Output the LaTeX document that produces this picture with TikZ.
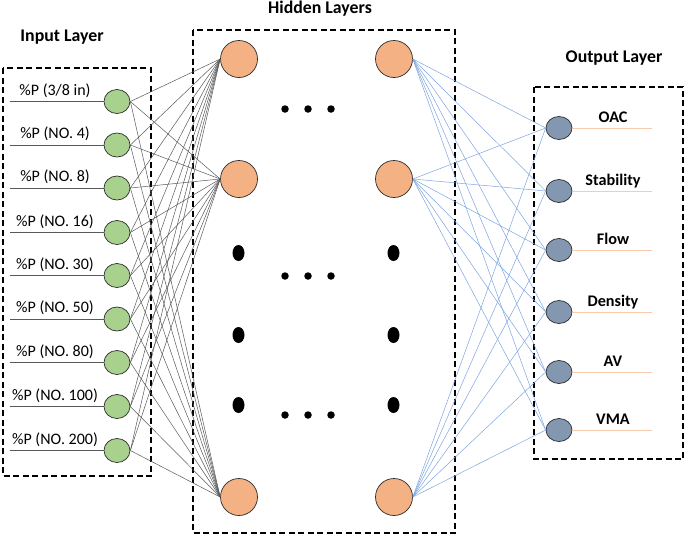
\documentclass[tikz,border=0pt]{standalone}
\usepackage{fontspec}
\setmainfont{Carlito}
\usetikzlibrary{shapes.geometric}
\definecolor{ingreen}{HTML}{A9D18E}
\definecolor{hidorange}{HTML}{F4B183}
\definecolor{outblue}{HTML}{8497B0}
\definecolor{wireblue}{HTML}{7EA4E0}
\definecolor{wiregray}{HTML}{595959}
\definecolor{outline}{HTML}{2B2B2B}
\definecolor{salmon}{HTML}{F8CBAD}
\tikzset{
  layerbox/.style={draw=black, line width=1.8pt, dash pattern=on 6pt off 3.5pt},
  innode/.style={ellipse, draw=outline, fill=ingreen, line width=0.7pt, minimum width=26pt, minimum height=24pt, inner sep=0pt},
  outnode/.style={ellipse, draw=outline, fill=outblue, line width=0.7pt, minimum width=26pt, minimum height=23pt, inner sep=0pt},
  hidnode/.style={circle, draw=outline, fill=hidorange, line width=0.7pt, minimum size=37pt, inner sep=0pt},
  bigdot/.style={ellipse, fill=black, minimum width=12pt, minimum height=16pt, inner sep=0pt},
  smalldot/.style={circle, fill=black, minimum size=7.5pt, inner sep=0pt},
  inlabel/.style={font=\fontsize{16}{19}\selectfont, inner sep=0pt},
  outlabel/.style={font=\fontsize{16.2}{19}\selectfont\bfseries, inner sep=0pt},
  title/.style={font=\fontsize{17.8}{21}\selectfont\bfseries, inner sep=0pt},
  ingrayline/.style={draw=wiregray, line width=0.5pt},
  bluewire/.style={draw=wireblue, line width=0.5pt},
  outline wire/.style={draw=salmon, line width=0.8pt},
}
\begin{document}
\begin{tikzpicture}[x=1pt,y=-1pt]
\useasboundingbox (0,0) rectangle (685,536);
% boxes
\draw[layerbox] (3,68) rectangle (151,476);
\draw[layerbox] (193,30) rectangle (455,533);
\draw[layerbox] (534,87) rectangle (683,459);
% titles
\node[title] (tin) at (62,37) {Input Layer};
\node[title] (thid) at (320,9) {Hidden Layers};
\node[title] (tout) at (614,58) {Output Layer};
% input nodes
\foreach \i/\y/\t in {1/101.5/{\%P (3/8 in)},2/145/{\%P (NO. 4)},3/188/{\%P (NO. 8)},4/232.5/{\%P (NO. 16)},5/275.5/{\%P (NO. 30)},6/319/{\%P (NO. 50)},7/362.5/{\%P (NO. 80)},8/406.5/{\%P (NO. 100)},9/450.5/{\%P (NO. 200)}}{
  \node[innode] (in\i) at (117,\y) {};
  \coordinate (ins\i) at (10,\y);
  \node[inlabel, anchor=base] (inl\i) at (55,\y-6.5) {\t};
}
% hidden nodes
\node[hidnode] (h1) at (239,59) {};
\node[hidnode] (h2) at (239,179) {};
\node[hidnode] (h3) at (239,497) {};
\node[hidnode] (g1) at (394,59) {};
\node[hidnode] (g2) at (394,179) {};
\node[hidnode] (g3) at (394,497) {};
% dots
\foreach \y [count=\k] in {253,335,405}{
  \node[bigdot] (bl\k) at (238.5,\y) {};
  \node[bigdot] (br\k) at (393.5,\y) {};
}
\foreach \y [count=\k] in {109,276,415}{
  \node[smalldot] (da\k) at (285,\y) {};
  \node[smalldot] (db\k) at (308,\y) {};
  \node[smalldot] (dc\k) at (331,\y) {};
}
% output nodes
\foreach \i/\y/\t in {1/128/OAC,2/191/Stability,3/250/Flow,4/312/Density,5/372/AV,6/430/VMA}{
  \node[outnode] (o\i) at (559,\y) {};
  \coordinate (oe\i) at (652,\y);
  \node[outlabel, anchor=base] (ol\i) at (613,\y-5.5) {\t};
}
% wires
\foreach \i in {1,...,9}{
  \draw[ingrayline] (ins\i) -- (in\i.west);
  \foreach \h in {h1,h2,h3}{
    \draw[ingrayline] (in\i.east) -- (\h.west);
  }
}
\foreach \i in {1,...,6}{
  \draw[outline wire] (o\i.east) -- (oe\i);
  \foreach \g in {g1,g2,g3}{
    \draw[bluewire] (\g.east) -- (o\i.west);
  }
}
\end{tikzpicture}
\end{document}
